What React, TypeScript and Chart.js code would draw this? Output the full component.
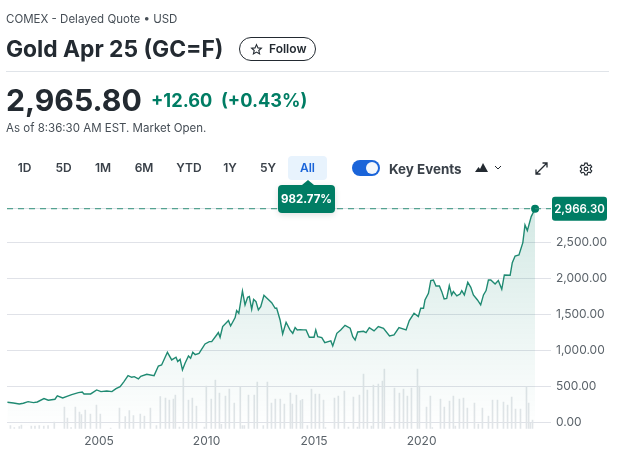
import React, { useEffect, useRef } from "react";
import { Chart, registerables } from "chart.js";

Chart.register(...registerables);

const priceYears = [2000.74,2001.02,2001.29,2001.48,2001.70,2001.95,2002.13,2002.44,2002.64,2002.95,2003.06,2003.31,2003.57,2003.73,2004.04,2004.22,2004.30,2004.61,2004.89,2005.09,2005.36,2005.60,2005.79,2005.98,2006.16,2006.35,2006.52,2006.64,2006.83,2006.94,2007.22,2007.56,2007.76,2007.91,2008.18,2008.38,2008.58,2008.66,2008.77,2008.88,2009.00,2009.16,2009.26,2009.36,2009.47,2009.65,2009.93,2010.13,2010.24,2010.47,2010.55,2010.63,2010.75,2011.02,2011.12,2011.33,2011.40,2011.50,2011.67,2011.79,2011.91,2011.99,2012.10,2012.19,2012.30,2012.41,2012.52,2012.67,2012.80,2013.03,2013.19,2013.26,2013.42,2013.54,2013.70,2013.88,2014.01,2014.12,2014.22,2014.35,2014.50,2014.63,2014.78,2015.00,2015.08,2015.17,2015.36,2015.50,2015.78,2015.87,2016.06,2016.24,2016.44,2016.68,2016.80,2016.91,2017.03,2017.30,2017.42,2017.57,2017.79,2017.99,2018.23,2018.51,2018.72,2018.95,2019.28,2019.43,2019.65,2019.85,2019.96,2020.09,2020.16,2020.32,2020.43,2020.55,2020.67,2020.83,2020.94,2021.05,2021.17,2021.29,2021.40,2021.48,2021.64,2021.79,2021.87,2021.99,2022.15,2022.29,2022.41,2022.60,2022.75,2022.88,2023.00,2023.11,2023.22,2023.42,2023.57,2023.73,2023.85,2024.12,2024.22,2024.35,2024.53,2024.71,2024.81,2024.92,2025.10,2025.28];
const priceValues = [278,268,255,264,287,273,282,329,306,320,366,338,366,384,412,421,394,394,449,426,435,426,468,496,565,648,625,634,602,639,667,648,782,796,972,866,903,843,875,727,820,921,889,972,940,958,1088,1120,1120,1213,1246,1181,1329,1412,1338,1454,1551,1514,1824,1630,1736,1746,1570,1708,1676,1560,1607,1764,1727,1662,1583,1588,1421,1227,1389,1283,1236,1315,1283,1287,1283,1283,1181,1181,1283,1190,1176,1107,1130,1060,1236,1283,1347,1306,1190,1144,1255,1264,1245,1315,1269,1329,1306,1199,1213,1315,1283,1412,1514,1468,1583,1583,1700,1792,1968,1977,1894,1894,1815,1713,1722,1898,1769,1815,1755,1782,1829,1769,1945,1875,1769,1699,1630,1769,1829,1977,1977,1922,1968,1847,2046,2042,2218,2310,2324,2496,2741,2662,2857,2966.3];

const volumeYears = [2000.88,2001.06,2001.29,2001.39,2001.85,2002.02,2002.22,2002.43,2002.63,2002.92,2003.39,2003.53,2003.70,2003.90,2004.09,2004.18,2004.36,2004.60,2004.88,2005.06,2005.54,2005.95,2006.22,2006.41,2006.60,2006.92,2007.11,2007.39,2007.67,2007.85,2008.09,2008.27,2008.46,2008.55,2008.74,2008.92,2009.16,2009.34,2009.53,2009.90,2009.99,2010.22,2010.41,2010.60,2010.69,2010.88,2011.06,2011.29,2011.57,2011.67,2011.76,2011.95,2012.22,2012.36,2012.64,2012.83,2013.02,2013.20,2013.43,2013.62,2013.90,2013.99,2014.18,2014.37,2014.46,2014.69,2014.88,2015.06,2015.25,2015.44,2015.53,2015.95,2016.13,2016.41,2016.60,2016.83,2017.02,2017.11,2017.30,2017.48,2017.67,2017.76,2017.99,2018.18,2018.27,2018.55,2018.74,2018.97,2019.16,2019.34,2019.53,2019.81,2019.90,2020.23,2020.41,2020.50,2020.88,2021.06,2021.30,2021.48,2021.57,2021.76,2021.95,2022.13,2022.46,2022.64,2022.83,2023.11,2023.30,2023.53,2023.81,2024.00,2024.19,2024.37,2024.60,2024.88,2024.98,2025.06,2025.16];
const volumeValues = [90,30,60,110,80,80,90,80,90,200,650,320,30,650,500,420,560,440,710,440,20,620,360,540,390,440,380,620,90,960,920,860,890,1010,50,1520,860,920,680,50,1280,890,1460,1070,130,980,1190,770,1250,90,90,1010,1010,1400,90,1400,770,890,890,740,1070,740,1010,840,880,90,1190,1040,1040,860,30,920,980,1130,50,950,50,1010,1640,1160,80,1310,1340,1430,1790,50,1220,1070,1190,980,1220,1790,1280,650,980,30,890,650,830,980,80,890,920,620,770,140,620,380,860,860,800,710,950,590,590,1260,770,160,260];

const yTicks = [0, 500, 1000, 1500, 2000, 2500];
const xTicks = [2005, 2010, 2015, 2020];
const lastPrice = 2966.3;
const lastPriceLabel = "2,966.30";
const rangeTabs = ["1D", "5D", "1M", "6M", "YTD", "1Y", "5Y"];
const rangeTabCentres = [24.5, 63.5, 103, 144, 189, 230, 268];

const FONT = "Inter, 'Noto Sans', sans-serif";
const GREEN = "#007d64";
const INK = "#232a31";

const lastPricePlugin = {
  id: "lastPrice",
  afterDraw(chart: any) {
    const { ctx, scales } = chart;
    const y = scales.y.getPixelForValue(lastPrice);
    ctx.save();
    ctx.fillStyle = GREEN;
    ctx.beginPath();
    ctx.roundRect(552, y - 12, 55, 24, 3);
    ctx.fill();
    ctx.fillStyle = "#fff";
    ctx.font = `600 11.5px ${FONT}`;
    ctx.textAlign = "center";
    ctx.textBaseline = "middle";
    ctx.fillText(lastPriceLabel, 579.5, y + 0.5);
    ctx.restore();
  },
};

function abs(left: number, top: number, extra: React.CSSProperties = {}): React.CSSProperties {
  return { position: "absolute", left, top, whiteSpace: "nowrap", fontFamily: FONT, ...extra };
}

export default function App() {
  const ref = useRef<HTMLCanvasElement>(null);
  useEffect(() => {
    const chart = new Chart(ref.current as HTMLCanvasElement, {
      type: "line",
      plugins: [lastPricePlugin],
      data: {
        datasets: [
          {
            type: "line",
            label: "Last",
            data: [{ x: 2000.72, y: lastPrice }, { x: 2026.02, y: lastPrice }],
            borderColor: "#2f9079",
            borderWidth: 1,
            borderDash: [6, 5],
            pointRadius: 0,
            fill: false,
            order: 0,
          },
          {
            type: "line",
            label: "Gold",
            data: priceYears.map((x, i) => ({ x, y: priceValues[i] })),
            borderColor: "#1f8a72",
            borderWidth: 1.4,
            tension: 0,
            pointRadius: (c: any) => (c.dataIndex === priceYears.length - 1 ? 4 : 0),
            pointBackgroundColor: GREEN,
            pointBorderWidth: 0,
            fill: "start",
            backgroundColor: (c: any) => {
              const a = c.chart.chartArea;
              if (!a) return "transparent";
              const g = c.chart.ctx.createLinearGradient(0, c.chart.scales.y.getPixelForValue(lastPrice), 0, a.bottom);
              g.addColorStop(0, "rgba(0,125,100,0.17)");
              g.addColorStop(1, "rgba(0,125,100,0)");
              return g;
            },
            order: 1,
          },
          {
            type: "bar",
            label: "Volume",
            yAxisID: "v",
            data: volumeYears.map((x, i) => ({ x, y: volumeValues[i] })),
            backgroundColor: "#e1e5e8",
            barThickness: 1,
            grouped: false,
            order: 2,
          },
        ] as any,
      },
      options: {
        animation: false,
        responsive: false,
        layout: { padding: { left: 7, top: 195, right: 0, bottom: 0 } },
        plugins: { legend: { display: false }, tooltip: { enabled: false } },
        scales: {
          x: {
            type: "linear",
            min: 2000.72,
            max: 2026.02,
            offset: false,
            grid: { display: false, drawTicks: false },
            border: { display: false },
            afterBuildTicks: (s: any) => { s.ticks = xTicks.map((value) => ({ value })); },
            afterFit: (s: any) => { s.height = 33.3; },
            ticks: {
              maxRotation: 0,
              padding: 5,
              color: "#5b636a",
              font: { family: FONT, size: 12 },
              callback: (v: any) => String(v),
            },
          },
          y: {
            type: "linear",
            position: "right",
            min: -89,
            max: 3157,
            grid: { color: "#e0e2e8", lineWidth: 1, drawTicks: false },
            border: { display: false },
            afterBuildTicks: (s: any) => { s.ticks = [...yTicks, lastPrice].map((value) => ({ value })); },
            afterFit: (s: any) => { s.width = 66; },
            ticks: {
              padding: 5,
              color: "#5b636a",
              font: { family: FONT, size: 12 },
              callback: (v: any) =>
                v === lastPrice ? "" : Number(v).toLocaleString("en-US", { minimumFractionDigits: 2, maximumFractionDigits: 2 }),
            },
          },
          v: { type: "linear", display: false, min: 0, max: 7010 },
        },
      } as any,
    });
    return () => chart.destroy();
  }, []);

  return (
    <div style={{ position: "absolute", left: 0, top: 0, width: 617, height: 462, overflow: "hidden", background: "#fff" }}>
      <canvas ref={ref} width={617} height={462} style={{ position: "absolute", left: 0, top: 0, width: 617, height: 462 }} />
      <div style={abs(6, 11, { fontSize: 11.5, lineHeight: "16px", color: "#464e56" })}>COMEX - Delayed Quote • USD</div>
      <div style={abs(6, 34, { fontSize: 22.8, lineHeight: "30px", fontWeight: 700, color: INK })}>Gold Apr 25 (GC=F)</div>
      <div style={abs(239, 37, { width: 77, height: 24, boxSizing: "border-box", border: "1px solid #232a31", borderRadius: 12, fontSize: 12, lineHeight: "22px", fontWeight: 600, color: INK, paddingLeft: 29 })}>Follow</div>
      <svg style={abs(250, 43)} width="13" height="13" viewBox="0 0 24 24" fill="none" stroke={INK} strokeWidth="2"><path d="M12 3l2.7 6 6.3.6-4.8 4.2 1.5 6.4L12 16.8l-5.7 3.4 1.5-6.4L3 9.6 9.3 9z" /></svg>
      <div style={{ ...abs(6, 71), width: 603, height: 1, background: "#e0e4e9" }} />
      <div style={abs(6, 80, { fontSize: 30.2, lineHeight: "40px", fontWeight: 700, color: INK })}>2,965.80</div>
      <div style={abs(151, 87, { fontSize: 18.2, lineHeight: "26px", fontWeight: 700, color: GREEN })}>+12.60</div>
      <div style={abs(221, 87, { fontSize: 18.2, lineHeight: "26px", fontWeight: 700, color: GREEN })}>(+0.43%)</div>
      <div style={abs(6, 120, { fontSize: 11.5, lineHeight: "16px", color: "#464e56" })}>As of 8:36:30 AM EST. Market Open.</div>

      {rangeTabs.map((t, i) => (
        <div key={t} style={abs(rangeTabCentres[i] - 20, 160, { width: 40, textAlign: "center", fontSize: 12, lineHeight: "16px", fontWeight: 600, color: "#3a4149" })}>{t}</div>
      ))}
      <div style={abs(288, 156, { width: 39, height: 24, borderRadius: 4, background: "#e8f3fd", textAlign: "center", fontSize: 12, lineHeight: "24px", fontWeight: 600, color: "#1a64d9" })}>All</div>
      <div style={abs(302, 180, { width: 0, height: 0, borderLeft: "6px solid transparent", borderRight: "6px solid transparent", borderBottom: `5px solid ${GREEN}` })} />
      <div style={abs(278, 185, { width: 57, height: 28, borderRadius: 4, background: GREEN, color: "#fff", textAlign: "center", fontSize: 11.5, lineHeight: "28px", fontWeight: 700, boxShadow: "0 2px 6px rgba(0,0,0,.12)" })}>982.77%</div>

      <div style={abs(352, 160, { width: 28, height: 16, borderRadius: 8, background: "#1a64d9" })} />
      <div style={abs(366, 162, { width: 12, height: 12, borderRadius: 6, background: "#f2f6fc" })} />
      <div style={abs(389, 160, { fontSize: 13.4, lineHeight: "18px", fontWeight: 700, color: "#3a4149" })}>Key Events</div>
      <svg style={abs(475, 163)} width="13" height="9" viewBox="0 0 13 9" fill={INK}><path d="M0 9l3.5-5 1.5 2L8 0l5 9z" /></svg>
      <svg style={abs(494, 165)} width="8" height="5" viewBox="0 0 8 5" fill="none" stroke={INK} strokeWidth="1"><path d="M1 1l3 3 3-3" /></svg>
      <svg style={abs(535, 162)} width="13" height="13" viewBox="0 0 13 13" fill="none" stroke={INK} strokeWidth="1.3"><path d="M1 12L12 1M7.5 1H12v4.5M1 7.5V12h4.5" /></svg>
      <svg style={abs(579, 162)} width="14" height="14" viewBox="0 0 24 24" fill="none" stroke={INK} strokeWidth="2"><circle cx="12" cy="12" r="3.2" /><path d="M10 2h4l.6 3 2.4 1.2 2.8-1.2 2 3.4-2.3 2 .1 2.6 2.2 2-2 3.4-2.8-1.1-2.4 1.3L14 22h-4l-.6-3-2.4-1.3-2.8 1.1-2-3.4 2.2-2 .1-2.6-2.3-2 2-3.4L7 6.2 9.4 5z" /></svg>
    </div>
  );
}
